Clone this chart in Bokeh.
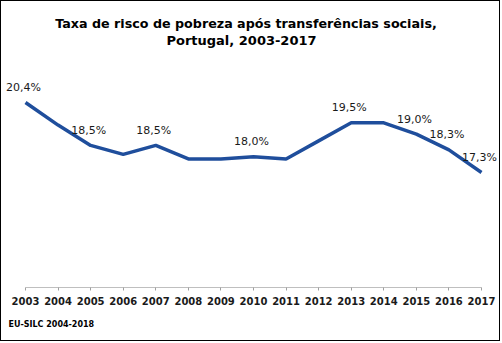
from bokeh.plotting import figure
from bokeh.models import Range1d, Label, ColumnDataSource, FixedTicker, Title
from bokeh.core.properties import value
from bokeh.embed import file_html
from bokeh.resources import INLINE

years = [2003, 2004, 2005, 2006, 2007, 2008, 2009, 2010, 2011, 2012, 2013, 2014, 2015, 2016, 2017]
rates = [20.4, 19.4, 18.5, 18.1, 18.5, 17.9, 17.9, 18.0, 17.9, 18.7, 19.5, 19.5, 19.0, 18.3, 17.3]
label_years = [2003, 2005, 2007, 2010, 2013, 2015, 2016, 2017]
label_rates = [20.4, 18.5, 18.5, 18.0, 19.5, 19.0, 18.3, 17.3]
label_texts = ["20,4%", "18,5%", "18,5%", "18,0%", "19,5%", "19,0%", "18,3%", "17,3%"]
title_lines = ["Taxa de risco de pobreza após transferências sociais,", "Portugal, 2003-2017"]
source_note = "EU-SILC 2004-2018"

W, H = 500, 341
FB = 286  # frame bottom in canvas px
p = figure(width=W, height=H, output_backend="svg", toolbar_location=None,
           x_range=Range1d(2002.2631, 2017.614), y_range=Range1d(12.207, 24.873),
           min_border_left=0, min_border_right=0, min_border_top=0, min_border_bottom=H - FB,
           styles={"border": "1px solid black"})
p.title.text = ""
p.yaxis.visible = False
p.xgrid.visible = False
p.ygrid.visible = False
p.outline_line_color = None
p.background_fill_color = "white"
p.border_fill_color = "white"

xa = p.xaxis[0]
xa.ticker = FixedTicker(ticks=years)
xa.bounds = (2003, 2017)
xa.axis_line_color = "#bfbfbf"
xa.major_tick_line_color = "#a0a0a0"
xa.major_tick_in = 0
xa.major_tick_out = 3
xa.minor_tick_line_color = None
xa.major_label_standoff = 6
xa.major_label_text_font = "DejaVu Sans"
xa.major_label_text_font_style = "bold"
xa.major_label_text_font_size = "10px"
xa.major_label_text_color = "#1a1a1a"

p.line(years, rates, line_color="#1F4E9C", line_width=3.5)

src = ColumnDataSource(dict(x=label_years, y=label_rates, t=label_texts))
p.text(x="x", y="y", text="t", source=src, text_align="center", text_baseline="middle",
       y_offset=-15, x_offset=-2, text_font=value("DejaVu Sans"), text_font_size="11px",
       text_color="#1a1a1a")

p.add_layout(Label(x=244.5, y=FB - 21.5, x_units="screen", y_units="screen", text=title_lines[0],
                   text_align="center", text_baseline="middle", text_font="DejaVu Sans",
                   text_font_style="bold", text_font_size="12.7px", text_color="black"))
p.add_layout(Label(x=240, y=FB - 39, x_units="screen", y_units="screen", text=title_lines[1],
                   text_align="center", text_baseline="middle", text_font="DejaVu Sans",
                   text_font_style="bold", text_font_size="13px", text_color="black"))

p.add_layout(Title(text=source_note, align="left", offset=7, standoff=21,
                   text_font="DejaVu Sans", text_font_style="bold", text_font_size="8px",
                   text_color="black"), "below")

open("out.html", "w").write(file_html(p, INLINE))
